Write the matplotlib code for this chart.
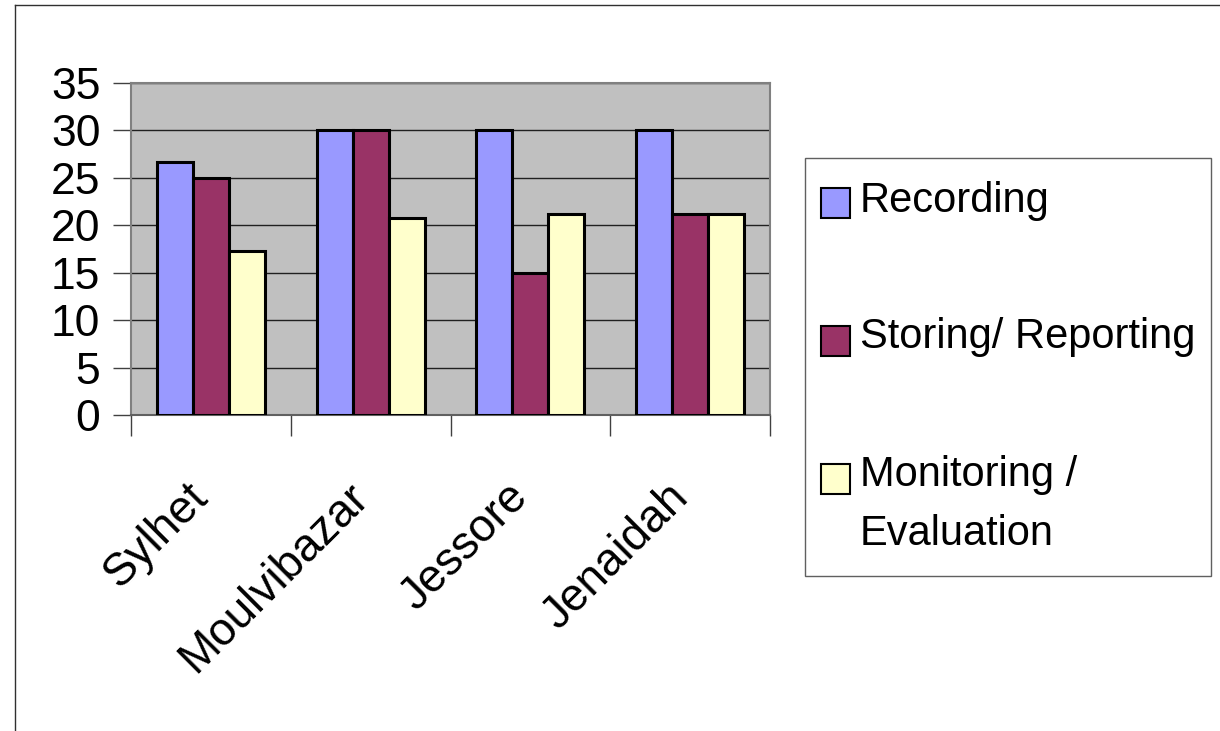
import numpy as np
import matplotlib
matplotlib.use('Agg')
import matplotlib.pyplot as plt
import matplotlib.transforms as mtransforms
from matplotlib.patches import Rectangle
from matplotlib.lines import Line2D

plt.rcParams['font.family'] = ['Liberation Sans', 'DejaVu Sans']

# Data
districts = ['Sylhet', 'Moulvibazar', 'Jessore', 'Jenaidah']
series_names = ['Recording', 'Storing/ Reporting', 'Monitoring /\nEvaluation']
recording = [26.7, 30, 30, 30]
storing = [25, 30, 15, 21.2]
monitoring = [17.3, 20.8, 21.2, 21.2]
series_values = [recording, storing, monitoring]
colors = ['#9999FF', '#993366', '#FFFFCC']

W, H = 1220, 731
fig = plt.figure(figsize=(W / 100, H / 100), dpi=100)
ax = fig.add_axes([131 / W, 1 - 415 / H, (770 - 131) / W, (415 - 83) / H])
ax.set_facecolor('#C0C0C0')

x = np.arange(len(districts)) + 0.5
bw = 0.225
for i, (vals, col) in enumerate(zip(series_values, colors)):
    ax.bar(x + (i - 1) * bw, vals, width=bw, color=col, edgecolor='black',
           linewidth=2.2, zorder=3)

ax.set_xlim(0, len(districts))
ax.set_ylim(0, 35)
ax.set_yticks(np.arange(0, 36, 5))
ax.grid(axis='y', color='#202020', linewidth=1, zorder=1)

for s in ax.spines.values():
    s.set_color('#808080')
    s.set_linewidth(1.5)
ax.spines['bottom'].set_color('#606060')

ax.tick_params(axis='y', direction='out', length=13, width=1, color='#404040',
               labelsize=32, pad=9)
ax.set_xticks(np.arange(0, len(districts) + 1))
ax.set_xticklabels([])
ax.tick_params(axis='x', which='major', direction='out', length=15, width=1,
               color='#404040')
ax.set_xticks(x, minor=True)
ax.set_xticklabels(districts, minor=True, rotation=45, ha='right',
                   va='center', rotation_mode='anchor', fontsize=33)
ax.tick_params(axis='x', which='minor', length=0, pad=50)
# nudge rotated labels slightly left/down
shift = mtransforms.ScaledTranslation(-9 / 100, -6 / 100, fig.dpi_scale_trans)
for lbl in ax.get_xticklabels(minor=True):
    lbl.set_transform(lbl.get_transform() + shift)

# Legend box
fig.add_artist(Rectangle((805 / W, 1 - 576 / H), (1211 - 805) / W, (576 - 158) / H,
                         transform=fig.transFigure, facecolor='white',
                         edgecolor='#606060', linewidth=1))
text_tops = [181, 317, 455]
box_centers = [203, 341, 479]
for name, col, top, cy in zip(series_names, colors, text_tops, box_centers):
    fig.add_artist(Rectangle((821 / W, 1 - (cy + 15) / H), 29 / W, 30 / H,
                             transform=fig.transFigure, facecolor=col,
                             edgecolor='black', linewidth=1.5))
    fig.text(860 / W, 1 - top / H, name, fontsize=30, va='top', ha='left',
             linespacing=1.62)

# Outer frame (left and top edges visible)
fig.add_artist(Line2D([15 / W, 15 / W], [0, 1 - 5 / H], transform=fig.transFigure,
                      color='#303030', linewidth=1))
fig.add_artist(Line2D([15 / W, 1], [1 - 5 / H, 1 - 5 / H], transform=fig.transFigure,
                      color='#303030', linewidth=1))

fig.savefig('out.png', dpi=100, facecolor='white')
